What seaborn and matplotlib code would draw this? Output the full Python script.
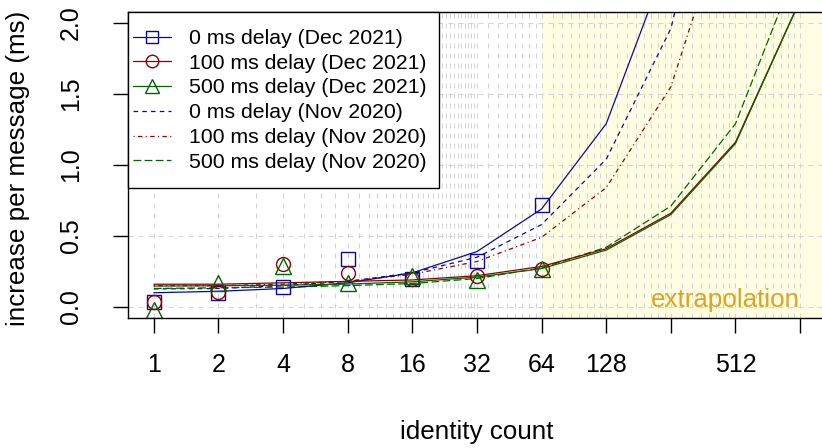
import matplotlib
matplotlib.use("Agg")
import matplotlib.pyplot as plt
import seaborn as sns
import pandas as pd
from matplotlib.lines import Line2D
from matplotlib.patches import Rectangle
from matplotlib.ticker import NullLocator

# ---------------- data ----------------
identity_fit = [1, 2, 4, 8, 16, 32, 64, 128, 256, 512, 1024]
identity_obs = [1, 2, 4, 8, 16, 32, 64]

# measured points (Dec 2021)
obs_0ms_dec21 = [0.037, 0.10, 0.14, 0.34, 0.20, 0.32, 0.72]
obs_100ms_dec21 = [0.037, 0.105, 0.30, 0.237, 0.195, 0.22, 0.27]
obs_500ms_dec21 = [-0.02, 0.17, 0.29, 0.17, 0.22, 0.19, 0.27]

# fitted / extrapolated curves
fit_0ms_dec21 = [0.10, 0.11, 0.13, 0.17, 0.24, 0.39, 0.69, 1.29, 2.50, 4.90, 9.72]
fit_100ms_dec21 = [0.16, 0.16, 0.17, 0.18, 0.19, 0.22, 0.285, 0.41, 0.66, 1.16, 2.16]
fit_500ms_dec21 = [0.147, 0.149, 0.153, 0.161, 0.177, 0.21, 0.27, 0.40, 0.65, 1.15, 2.16]
fit_0ms_nov20 = [0.127, 0.13, 0.15, 0.18, 0.24, 0.35, 0.58, 1.04, 1.96, 3.80, 7.50]
fit_100ms_nov20 = [0.15, 0.15, 0.16, 0.18, 0.23, 0.32, 0.49, 0.84, 1.55, 2.96, 5.77]
fit_500ms_nov20 = [0.13, 0.135, 0.14, 0.15, 0.165, 0.20, 0.275, 0.42, 0.71, 1.29, 2.45]

x_tick_labels = ["1", "2", "4", "8", "16", "32", "64", "128", "", "512", ""]
y_ticks = [0.0, 0.5, 1.0, 1.5, 2.0]
y_tick_labels = ["0.0", "0.5", "1.0", "1.5", "2.0"]

legend_labels = ["0 ms delay (Dec 2021)", "100 ms delay (Dec 2021)", "500 ms delay (Dec 2021)",
                 "0 ms delay (Nov 2020)", "100 ms delay (Nov 2020)", "500 ms delay (Nov 2020)"]

# ---------------- style ----------------
sns.set_style("white")
plt.rcParams["font.family"] = ["Liberation Sans", "DejaVu Sans"]
plt.rcParams["lines.scale_dashes"] = False
plt.rcParams["text.color"] = "black"
plt.rcParams["axes.labelcolor"] = "black"
plt.rcParams["xtick.color"] = "black"
plt.rcParams["ytick.color"] = "black"

BLUE, RED, GREEN = "#0A0A96", "#8B0000", "#006400"
YELLOW = "#FFFDE1"
GRID = "#D3D3D3"
DASH_B = (0, (3.3, 3.0))
DASH_R = (0, (0.8, 2.4, 3.2, 2.4))
DASH_G = (0, (5.6, 2.4))
LW = 0.9

fig = plt.figure(figsize=(8.22, 4.48), dpi=100)
ax = fig.add_axes([0.1557, 0.2895, 0.8491, 0.6848])
ax.set_facecolor("white")
ax.set_xscale("log", base=2)
xmin, xmax = 2 ** -0.4, 2 ** 10.4
ax.set_xlim(xmin, xmax)
ax.set_ylim(-0.08, 2.08)

# extrapolation region
ax.axvspan(64, xmax, color=YELLOW, lw=0, zorder=0)

# grid
vgrid = list(range(1, 32)) + [v for k in range(5, 10) for v in range(2 ** k, 2 ** (k + 1), 2 ** (k - 3))] + [1024]
for v in vgrid:
    ax.axvline(v, color=GRID, lw=0.75, ls=(0, (3.6, 3.6)), zorder=0.5)
for h in y_ticks:
    ax.axhline(h, color=GRID, lw=0.75, ls=(0, (3.6, 3.6)), zorder=0.5)

# curves
fits = [
    (fit_0ms_nov20, BLUE, DASH_B),
    (fit_100ms_nov20, RED, DASH_R),
    (fit_500ms_nov20, GREEN, DASH_G),
    (fit_0ms_dec21, BLUE, "-"),
    (fit_100ms_dec21, RED, "-"),
    (fit_500ms_dec21, GREEN, "-"),
]
for vals, col, ls in fits:
    df = pd.DataFrame({"x": identity_fit, "y": vals})
    sns.lineplot(data=df, x="x", y="y", color=col, lw=LW, linestyle=ls, ax=ax,
                 errorbar=None, sort=False, legend=False)

obs = [
    (obs_0ms_dec21, BLUE, "s", 10),
    (obs_100ms_dec21, RED, "o", 10),
    (obs_500ms_dec21, GREEN, "^", 11),
]
for vals, col, mk, ms in obs:
    df = pd.DataFrame({"x": identity_obs, "y": vals})
    sns.lineplot(data=df, x="x", y="y", ax=ax, errorbar=None, sort=False, legend=False,
                 marker=mk, linestyle="none", markersize=ms, mfc="none", mec=col, mew=1.0, color=col)

ax.text(1024, 0.0, "extrapolation", ha="right", va="baseline", color="goldenrod", fontsize=18.7)

# axes / ticks
ax.set_xticks(identity_fit)
ax.set_xticklabels(x_tick_labels)
ax.xaxis.set_minor_locator(NullLocator())
ax.set_yticks(y_ticks)
ax.set_yticklabels(y_tick_labels)
ax.tick_params(direction="out", length=10.8, width=1.0, colors="black", labelsize=18)
ax.tick_params(axis="x", pad=14.4, bottom=True)
ax.tick_params(axis="y", pad=21.6, labelrotation=90, left=True)
for lbl in ax.get_yticklabels():
    lbl.set_va("center")
for sp in ax.spines.values():
    sp.set_visible(True)
    sp.set_color("black")
    sp.set_linewidth(1.0)

ax.set_xlabel("identity count", fontsize=18.7, va="center", color="black")
ax.xaxis.set_label_coords(0.5, -0.3706)
ax.set_ylabel("increase per message (ms)", fontsize=18.7, va="center", color="black")
ax.yaxis.set_label_coords(-0.157, 0.49)

# legend (frame drawn separately to match R's asymmetric padding)
frame = Rectangle((0.0, 0.4237), 0.4456, 0.5763, transform=ax.transAxes, facecolor="white",
                  edgecolor="black", lw=1.0, zorder=4.9, clip_on=False)
ax.add_patch(frame)
handles = [
    Line2D([], [], color=BLUE, lw=LW, marker="s", mfc="none", mec=BLUE, ms=9, mew=1.0),
    Line2D([], [], color=RED, lw=LW, marker="o", mfc="none", mec=RED, ms=9, mew=1.0),
    Line2D([], [], color=GREEN, lw=LW, marker="^", mfc="none", mec=GREEN, ms=10, mew=1.0),
    Line2D([], [], color=BLUE, lw=LW, ls=DASH_B),
    Line2D([], [], color=RED, lw=LW, ls=DASH_R),
    Line2D([], [], color=GREEN, lw=LW, ls=DASH_G),
]
leg = ax.legend(handles, legend_labels, loc="upper left", bbox_to_anchor=(0.0072, 0.943), borderaxespad=0,
                fontsize=15.3, frameon=False, handlelength=1.8, handletextpad=0.82,
                labelspacing=0.27, borderpad=0.0, labelcolor="black")
leg.set_zorder(5)

fig.savefig("out.png", dpi=100)
